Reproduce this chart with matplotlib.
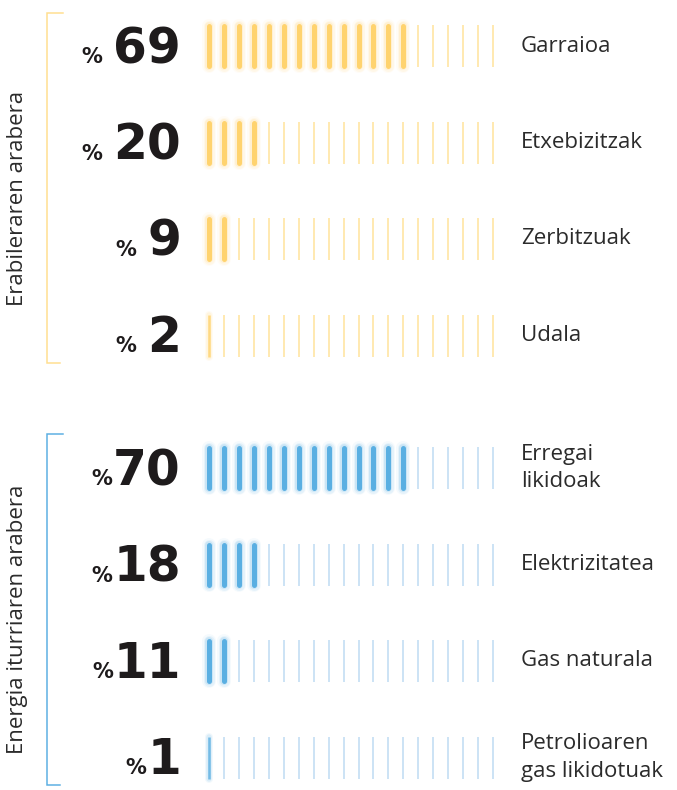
import matplotlib.pyplot as plt

# data
use_labels = ['Garraioa', 'Etxebizitzak', 'Zerbitzuak', 'Udala']
use_pct = [69, 20, 9, 2]
src_labels = ['Erregai\nlikidoak', 'Elektrizitatea', 'Gas naturala', 'Petrolioaren\ngas likidotuak']
src_pct = [70, 18, 11, 1]
n_ticks = 20

W, H = 677, 790
fig = plt.figure(figsize=(W / 100, H / 100), dpi=100)
ax = fig.add_axes([0, 0, 1, 1])
ax.set_xlim(0, W)
ax.set_ylim(H, 0)
ax.axis('off')

PT = 72 / 100  # pixels -> points


def draw_group(pcts, labels, y0, strong, light, sep, title, brk, brk_col):
    x_first, step = 209, 14.95
    for i, (p, lab) in enumerate(zip(pcts, labels)):
        yc = y0 + i * 96.5
        full = int(round(p / 5))
        for k in range(n_ticks):
            x = x_first + k * step
            if k < full:
                for w, a in [(14, 0.06), (11, 0.1), (8, 0.18)]:
                    ax.plot([x, x], [yc - 20, yc + 20], color=strong, lw=w * PT,
                            alpha=a, solid_capstyle='round')
                ax.plot([x, x], [yc - 20, yc + 20], color=strong, lw=5 * PT,
                        solid_capstyle='round')
            elif k == 0 and p > 0:
                for w, a in [(8, 0.08), (5.5, 0.15)]:
                    ax.plot([x, x], [yc - 21, yc + 21], color=strong, lw=w * PT,
                            alpha=a, solid_capstyle='round')
                ax.plot([x, x], [yc - 21, yc + 21], color=strong, lw=2.6 * PT,
                        alpha=0.8, solid_capstyle='butt')
            else:
                ax.plot([x, x], [yc - 21, yc + 21], color=light, lw=2.0 * PT,
                        solid_capstyle='butt')
        base = yc + 17
        t = ax.text(181, base, str(p), ha='right', va='baseline', fontsize=35,
                    fontweight='bold', color='#1e1b1c', family='DejaVu Sans')
        ax.annotate('%', xy=(0, base), xycoords=(t, 'data'),
                    xytext=(-sep, 0), textcoords='offset points',
                    ha='right', va='baseline', fontsize=15, fontweight='bold',
                    color='#1e1b1c', family='DejaVu Sans')
        ax.text(521, yc, lab, ha='left', va='center', fontsize=16,
                color='#2b2b2b', family='Open Sans', linespacing=1.4)
    # bracket
    bt, bb = brk
    ax.plot([63, 47, 47, 60], [bt, bt, bb, bb], color=brk_col, lw=1.5 * PT,
            solid_joinstyle='miter')
    ax.text(18, (bt + bb) / 2 + 10, title, rotation=90, ha='center', va='center',
            fontsize=16, color='#2b2b2b', family='Open Sans')


draw_group(use_pct, use_labels, 46, '#ffd36e', '#ffe9b2', 8,
           'Erabileraren arabera', (13, 363), '#ffdf8f')
draw_group(src_pct, src_labels, 468, '#5aafe2', '#cde3f5', 0.5,
           'Energia iturriaren arabera', (434, 785), '#5aafe2')

fig.savefig('out.png', dpi=100)
